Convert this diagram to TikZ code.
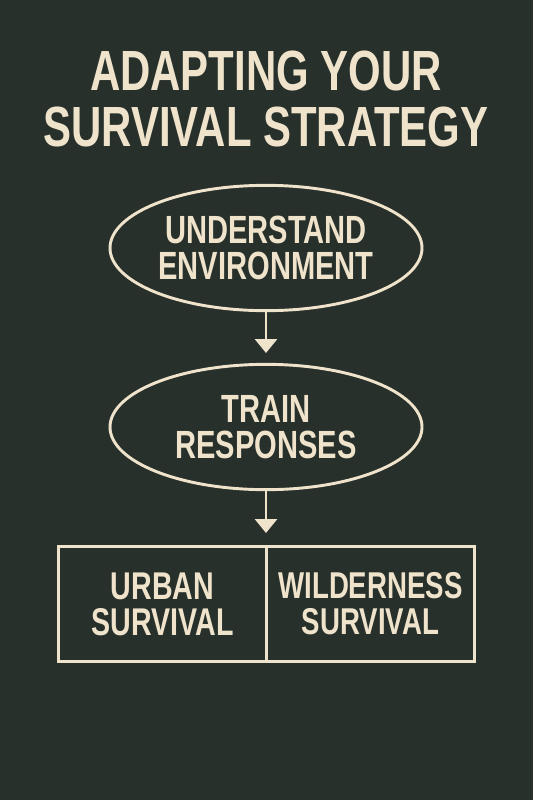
\documentclass[tikz,border=0pt]{standalone}
\usepackage{fontspec}
\setmainfont{Liberation Sans}[FakeStretch=0.74]
\usetikzlibrary{shapes.geometric,arrows.meta}
\definecolor{bg}{HTML}{27302A}
\definecolor{cream}{HTML}{EFE3CC}
\begin{document}
\begin{tikzpicture}[x=0.75pt,y=-0.75pt,
  every node/.style={text=cream,font=\bfseries,align=center},
  titletext/.style={font=\fontsize{42.5}{42}\bfseries\selectfont},
  oval/.style={draw=cream,line width=2.2pt,ellipse,minimum width=234pt,minimum height=94pt,inner sep=0pt,font=\fontsize{29.5}{27}\bfseries\selectfont},
  cell/.style={draw=cream,line width=2.2pt,rectangle,minimum width=156pt,minimum height=86pt,inner sep=0pt,font=\fontsize{29}{27}\bfseries\selectfont},
  flow/.style={draw=cream,line width=2.2pt,-{Triangle[width=16.5pt,length=10.5pt]}}]
\fill[bg] (0,0) rectangle (533,800);
\useasboundingbox (0,0) rectangle (533,800);
\node[titletext] (t1) at (266,71) {ADAPTING YOUR};
\node[titletext] (t2) at (266,127) {SURVIVAL STRATEGY};
\node[oval] (e1) at (266,248) {UNDERSTAND\\ENVIRONMENT};
\node[oval] (e2) at (266,427) {TRAIN\\RESPONSES};
\node[cell] (b1) at (162.5,604) {URBAN\\SURVIVAL};
\node[cell,font=\fontsize{28}{27}\bfseries\selectfont] (b2) at (370.5,604) {WILDERNESS\\SURVIVAL};
\coordinate (a1) at (266,353);
\coordinate (a2) at (266,533);
\draw[flow] (e1.south) -- (a1);
\draw[flow] (e2.south) -- (a2);
\end{tikzpicture}
\end{document}
